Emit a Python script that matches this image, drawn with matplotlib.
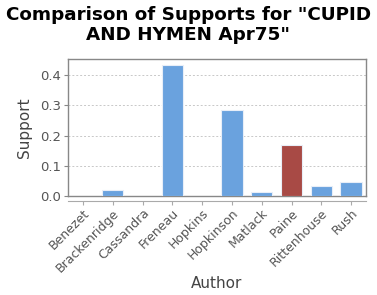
import matplotlib
matplotlib.use("Agg")
import matplotlib.pyplot as plt

authors = ["Benezet", "Brackenridge", "Cassandra", "Freneau", "Hopkins",
           "Hopkinson", "Matlack", "Paine", "Rittenhouse", "Rush"]
support = [0.0, 0.019, 0.0, 0.433, 0.0, 0.284, 0.013, 0.170, 0.033, 0.047]
highlight = "Paine"
yticks = [0.0, 0.1, 0.2, 0.3, 0.4]

blue = "#6aa2de"
red = "#a84a45"
colors = [red if a == highlight else blue for a in authors]

fig = plt.figure(figsize=(3.77, 2.95), dpi=100)
ax = fig.add_axes([68/377, 1 - 196/295, (366-68)/377, (196-59)/295])

x = list(range(len(authors)))
ax.bar(x, support, width=0.72, color=colors, edgecolor="#e8eef8", linewidth=0.8, zorder=3)
ax.set_xlim(-0.5, len(authors) - 0.5)
ax.set_ylim(0, 0.454)
ax.set_yticks(yticks)
ax.set_yticklabels([f"{v:.1f}" for v in yticks], color="#555555", fontsize=9.5)
ax.yaxis.grid(True, linestyle=(0, (2, 2)), color="#c8c8c8", linewidth=0.7, zorder=0)
for s in ax.spines.values():
    s.set_color("#888888")
    s.set_linewidth(1.0)
ax.tick_params(axis="y", length=3, color="#888888", pad=2)
ax.tick_params(axis="x", length=0)
ax.set_xticks(x)
ax.set_xticklabels([])

# detached x axis below the plot
ax2 = fig.add_axes([68/377, 1 - 201/295, (366-68)/377, 0.001])
ax2.set_xlim(-0.5, len(authors) - 0.5)
ax2.set_yticks([])
for k in ["left", "right", "bottom"]:
    ax2.spines[k].set_visible(False)
ax2.spines["top"].set_color("#aaaaaa")
ax2.set_xticks(x)
ax2.tick_params(axis="x", direction="in", length=3, color="#aaaaaa",
                top=True, bottom=False, labeltop=False, labelbottom=True, pad=4)
ax2.set_xticklabels(authors, rotation=45, ha="right", rotation_mode="anchor",
                    color="#555555", fontsize=9)
ax2.patch.set_visible(False)

ax.set_ylabel("Support", fontsize=11, color="#444444", labelpad=6)
fig.text((68+366)/2/377, 1 - 283/295, "Author", ha="center", va="center",
         fontsize=11, color="#444444")
fig.text(0.5, 1 - 25/295, "Comparison of Supports for \"CUPID\nAND HYMEN Apr75\"",
         ha="center", va="center", fontsize=13.2, fontweight="bold", linespacing=1.1)

fig.savefig("out.png", dpi=100)
